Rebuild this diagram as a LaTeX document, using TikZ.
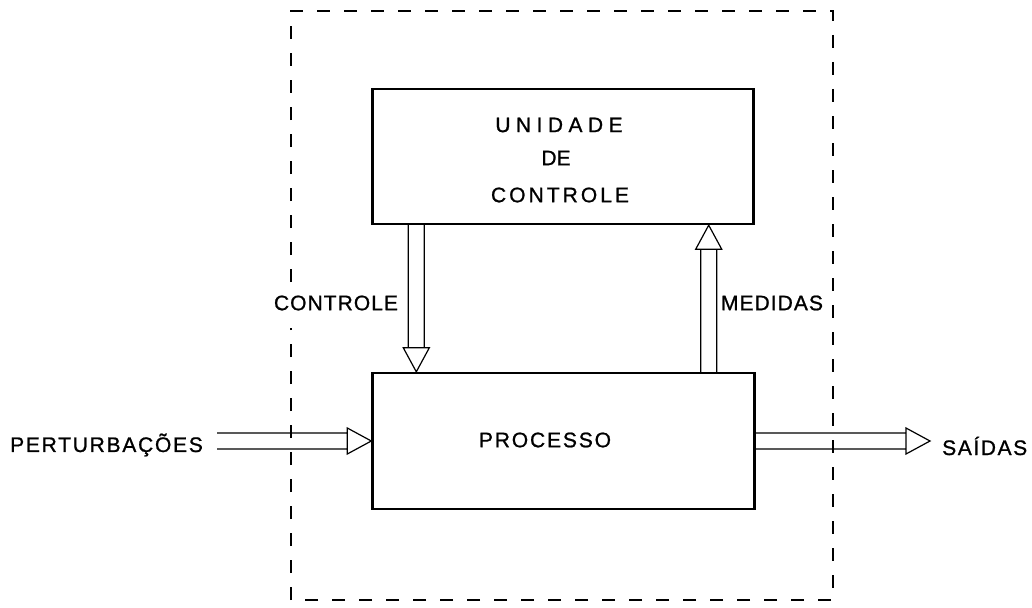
\documentclass[tikz,border=0pt]{standalone}
\usepackage{fontspec}
\usetikzlibrary{calc}
\newfontfamily\lab[FakeBold=1]{Liberation Sans}
\newcommand\ls[2]{{\addfontfeature{LetterSpace=#1}#2}}
\newcommand\hollowarrow[2]{%
  \coordinate (ha) at ($(#2)!24pt!(#1)$);
  \draw[arrowline] ($(#1)!8pt!90:(#2)$) -- ($(ha)!8pt!-90:(#1)$)
    ($(#1)!8pt!-90:(#2)$) -- ($(ha)!8pt!90:(#1)$)
    ($(ha)!13pt!-90:(#1)$) -- (#2) -- ($(ha)!13pt!90:(#1)$) -- cycle;
}
\tikzset{
  box/.style={draw, line width=2.4pt, inner sep=0pt},
  arrowline/.style={draw, line width=1.2pt, line join=miter},
  frame/.style={draw, line width=1.4pt, dash pattern=on 13pt off 14pt},
  txt/.style={font=\lab\fontsize{21}{25}\selectfont, inner sep=0pt},
}
\begin{document}
\begin{tikzpicture}[x=1pt, y=-1pt]
\useasboundingbox (0,0) rectangle (1032,607);
% dashed frame (broken on the left beside the CONTROLE label)
\draw[frame] (291,282) -- (291,11) -- (833,11) -- (833,600) -- (291,600) -- (291,328);
% boxes
\node[box, minimum width=381pt, minimum height=135pt] (uc) at (563,156.5) {};
\node[box, minimum width=382pt, minimum height=136pt] (proc) at (563.5,441) {};
% texts
\node[txt] (t1) at (559,125) {\ls{26}{UNIDADE}};
\node[txt] (t2) at (556,158) {DE};
\node[txt] (t3) at (560,195) {\ls{14.5}{CONTROLE}};
\node[txt] (tp) at (545,440) {\ls{8.9}{PROCESSO}};
\node[txt] (lc) at (336,303) {\ls{5}{CONTROLE}};
\node[txt] (lm) at (772,303) {\ls{5}{MEDIDAS}};
\node[txt, anchor=west] (pert) at (10,445) {\ls{8.3}{PERTURBAÇÕES}};
\node[txt, anchor=west] (said) at (942,446) {\ls{7.6}{SAÍDAS}};
% arrow end points
\coordinate (cs) at ([xshift=45pt]uc.south west);
\coordinate (ce) at (cs |- proc.north);
\coordinate (ms) at ([xshift=-47pt]proc.north east);
\coordinate (me) at (ms |- uc.south);
\coordinate (ps) at ([xshift=14pt]pert.east |- proc.west);
\coordinate (se) at ([xshift=-12pt]said.west |- proc.east);
% arrows
\hollowarrow{cs}{ce}
\hollowarrow{ms}{me}
\hollowarrow{ps}{proc.west}
\hollowarrow{proc.east}{se}
\end{tikzpicture}
\end{document}
